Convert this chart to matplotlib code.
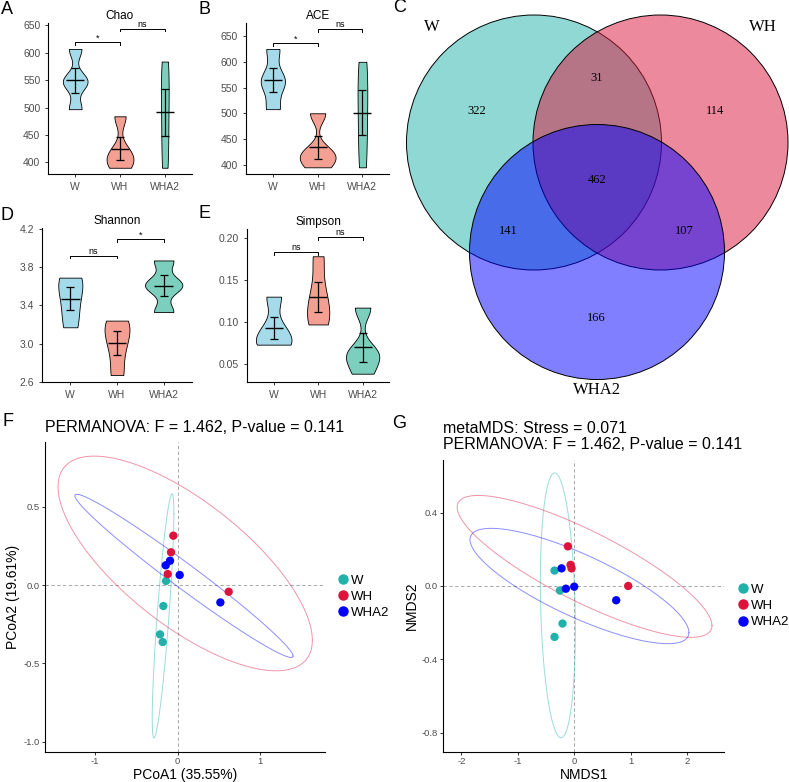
import numpy as np
import matplotlib
matplotlib.use('Agg')
import matplotlib.pyplot as plt
from matplotlib.patches import Circle
from matplotlib.lines import Line2D

plt.rcParams['font.family'] = ['Liberation Sans', 'DejaVu Sans']
plt.rcParams['axes.unicode_minus'] = False

groups = ['W', 'WH', 'WHA2']
violin_colors = ['#A4DAEA', '#F3A092', '#7DCFBD']
point_colors = ['#20B2AA', '#DC143C', '#0000FF']

# alpha diversity, 4 samples per group
chao = [[497, 545, 550, 607], [390, 405, 420, 484], [390, 460, 530, 584]]
ace = [[508, 555, 570, 625], [395, 415, 425, 500], [395, 470, 540, 600]]
shannon = [[3.17, 3.40, 3.62, 3.69], [2.67, 2.96, 3.15, 3.24], [3.33, 3.59, 3.63, 3.87]]
simpson = [[0.073, 0.075, 0.092, 0.130], [0.097, 0.110, 0.135, 0.178], [0.0385, 0.058, 0.065, 0.117]]

# significance brackets (group i, group j, height, label)
chao_sig = [(0, 1, 619, '*'), (1, 2, 644, 'ns')]
ace_sig = [(0, 1, 636, '*'), (1, 2, 663, 'ns')]
shannon_sig = [(0, 1, 3.92, 'ns'), (1, 2, 4.09, '*')]
simpson_sig = [(0, 1, 0.183, 'ns'), (1, 2, 0.201, 'ns')]

# venn counts
venn_regions = ['W', 'WH', 'WHA2', 'W&WH', 'W&WHA2', 'WH&WHA2', 'all']
venn_counts = [322, 114, 166, 31, 141, 107, 462]

# ordination scores
pcoa_x = [[-0.141, -0.174, -0.214, -0.182], [-0.053, -0.081, -0.121, 0.618], [-0.145, -0.093, 0.024, 0.517]]
pcoa_y = [[0.026, -0.134, -0.315, -0.364], [0.315, 0.209, 0.070, -0.043], [0.126, 0.155, 0.064, -0.111]]
nmds_x = [[-0.349, -0.254, -0.207, -0.349], [-0.112, -0.065, -0.047, 0.957], [-0.224, -0.148, 0.0, 0.744]]
nmds_y = [[0.084, -0.025, -0.205, -0.278], [0.216, 0.115, 0.096, 0.0], [0.096, -0.015, -0.004, -0.078]]

W, H = 789, 782
fig = plt.figure(figsize=(W / 100, H / 100), dpi=100)


def box(x0, y0, x1, y1):
    """pixel box (top-left origin) -> figure fraction rect"""
    return [x0 / W, 1 - y1 / H, (x1 - x0) / W, (y1 - y0) / H]


def nrd0(x):
    x = np.asarray(x, float)
    sd = x.std(ddof=1)
    q75, q25 = np.percentile(x, [75, 25])
    lo = min(sd, (q75 - q25) / 1.34)
    return 0.9 * lo * len(x) ** -0.2


def kde(x, grid):
    bw = nrd0(x)
    z = (grid[:, None] - np.asarray(x)[None, :]) / bw
    return np.exp(-0.5 * z ** 2).sum(axis=1) / (len(x) * bw * np.sqrt(2 * np.pi))


def style_axes(ax, labelsize, pad):
    for s in ['top', 'right']:
        ax.spines[s].set_visible(False)
    for s in ['left', 'bottom']:
        ax.spines[s].set_linewidth(0.8)
    ax.tick_params(labelsize=labelsize, color='#333333', labelcolor='#4D4D4D',
                   length=2.5, width=0.7, pad=pad)


def violin_panel(ax, data, sig, title, ylim, yticks, fmt, width):
    grids, dens = [], []
    for vals in data:
        g = np.linspace(min(vals), max(vals), 300)
        grids.append(g)
        dens.append(kde(vals, g))
    dmax = max(d.max() for d in dens)
    for i, vals in enumerate(data):
        pos = i + 1
        half = dens[i] / dmax * width / 2
        ax.fill_betweenx(grids[i], pos - half, pos + half, facecolor=violin_colors[i],
                         edgecolor='black', lw=0.6, zorder=2)
        m = np.mean(vals)
        se = np.std(vals, ddof=1) / np.sqrt(len(vals))
        ax.errorbar(pos, m, yerr=se, color='black', capsize=2.6, lw=0.9, capthick=0.9, zorder=3)
        ax.hlines(m, pos - 0.2, pos + 0.2, color='black', lw=1.0, zorder=3)
    tick = (ylim[1] - ylim[0]) * 0.018
    for i, j, y, lab in sig:
        ax.plot([i + 1, i + 1, j + 1, j + 1], [y - tick, y, y, y - tick], color='black', lw=0.7)
        ax.text((i + j) / 2 + 1, y, lab, ha='center', va='bottom', fontsize=6.5)
    ax.set_xlim(0.4, 3.6)
    ax.set_ylim(*ylim)
    ax.set_xticks([1, 2, 3], groups)
    ax.set_yticks(yticks, [fmt % v for v in yticks])
    ax.set_title(title, fontsize=8.5, pad=3)
    style_axes(ax, 7.5, 3.2)


axA = fig.add_axes(box(48.3, 22.7, 191.7, 174))
violin_panel(axA, chao, chao_sig, 'Chao', (378.6, 655), [400, 450, 500, 550, 600, 650], '%d', 0.6)
axB = fig.add_axes(box(246, 22.7, 389.3, 174))
violin_panel(axB, ace, ace_sig, 'ACE', (382, 676), [400, 450, 500, 550, 600, 650], '%d', 0.8)
axD = fig.add_axes(box(42.3, 228, 191.7, 381.7))
violin_panel(axD, shannon, shannon_sig, 'Shannon', (2.6, 4.21), [2.6, 3.0, 3.4, 3.8, 4.2], '%.1f', 0.8)
axE = fig.add_axes(box(247, 229.3, 389.3, 381.7))
violin_panel(axE, simpson, simpson_sig, 'Simpson', (0.029, 0.21), [0.05, 0.10, 0.15, 0.20], '%.2f', 0.8)

# Venn diagram, axes in pixel units
axC = fig.add_axes(box(395, 0, 789, 400))
axC.set_xlim(395, 789)
axC.set_ylim(400, 0)
axC.axis('off')
centers = [(534, 142.5), (660.5, 142.5), (597, 252)]
radius = 127.5
for (cx, cy), col in zip(centers, point_colors):
    rgba = matplotlib.colors.to_rgba(col, 0.5)
    axC.add_patch(Circle((cx, cy), radius, facecolor=rgba, edgecolor='black', lw=0.7))
count_pos = [(476.7, 111), (715.3, 111), (596.7, 318), (596.7, 78), (508.3, 231), (684.3, 231), (596.7, 180)]
for (tx, ty), n in zip(count_pos, venn_counts):
    axC.text(tx, ty, str(n), ha='center', va='center', fontsize=9, family='Liberation Serif')
for (tx, ty), name in zip([(431.7, 27), (763, 27), (596.7, 390)], groups):
    axC.text(tx, ty, name, ha='center', va='center', fontsize=12, family='Liberation Serif')


def ellipse(x, y, level=0.95, n=240):
    pts = np.column_stack([x, y])
    c = pts.mean(axis=0)
    cov = np.cov(pts.T)
    dfd = len(x) - 1
    fq = dfd / 2 * ((1 - level) ** (-2 / dfd) - 1)
    r = np.sqrt(2 * fq)
    t = np.linspace(0, 2 * np.pi, n)
    circ = np.column_stack([np.cos(t), np.sin(t)])
    L = np.linalg.cholesky(cov)
    return c + r * circ @ L.T


def ordination_panel(ax, xs, ys, title, xlabel, ylabel, xlim, ylim, xticks, yticks, pad):
    ax.axhline(0, color='#999999', lw=0.6, dashes=(4, 3), zorder=1)
    ax.axvline(0, color='#999999', lw=0.6, dashes=(4, 3), zorder=1)
    for i in range(3):
        e = ellipse(xs[i], ys[i])
        ax.plot(e[:, 0], e[:, 1], color=point_colors[i], alpha=0.45, lw=0.7, zorder=2)
    for i in range(3):
        ax.scatter(xs[i], ys[i], s=36, color=point_colors[i], edgecolors='none', zorder=3)
    ax.set_xlim(*xlim)
    ax.set_ylim(*ylim)
    ax.set_xticks(xticks, ['%g' % v for v in xticks])
    ax.set_yticks(yticks, ['%.1f' % v for v in yticks])
    ax.set_xlabel(xlabel, fontsize=10, labelpad=1)
    ax.set_ylabel(ylabel, fontsize=10, labelpad=2)
    ax.set_title(title, loc='left', fontsize=11.5, pad=pad, linespacing=1.1)
    style_axes(ax, 6.8, 1.5)
    handles = [Line2D([], [], ls='none', marker='o', ms=6.5, color=c) for c in point_colors]
    ax.legend(handles, groups, loc='center left', bbox_to_anchor=(1.0, 0.5), frameon=False,
              fontsize=9.5, handlelength=0.8, handletextpad=0.2, labelspacing=0.3,
              borderaxespad=0.6)


axF = fig.add_axes(box(45, 441.7, 325, 751.7))
ordination_panel(axF, pcoa_x, pcoa_y, 'PERMANOVA: F = 1.462, P-value = 0.141',
                 'PCoA1 (35.55%)', 'PCoA2 (19.61%)', (-1.608, 1.785), (-1.064, 0.915),
                 [-1, 0, 1], [-1.0, -0.5, 0.0, 0.5], 7)
axG = fig.add_axes(box(443.3, 460, 724.3, 751.7))
ordination_panel(axG, nmds_x, nmds_y,
                 'metaMDS: Stress = 0.071\nPERMANOVA: F = 1.462, P-value = 0.141',
                 'NMDS1', 'NMDS2', (-2.32, 2.66), (-0.904, 0.687),
                 [-2, -1, 0, 1, 2], [-0.8, -0.4, 0.0, 0.4], 8)

for lab, x, y in [('A', 7, 9), ('B', 204, 9), ('C', 400, 8), ('D', 7, 216),
                  ('E', 204, 214), ('F', 8, 422), ('G', 399, 423)]:
    fig.text(x / W, 1 - y / H, lab, ha='center', va='center', fontsize=13)

fig.savefig('out.png', dpi=100)
